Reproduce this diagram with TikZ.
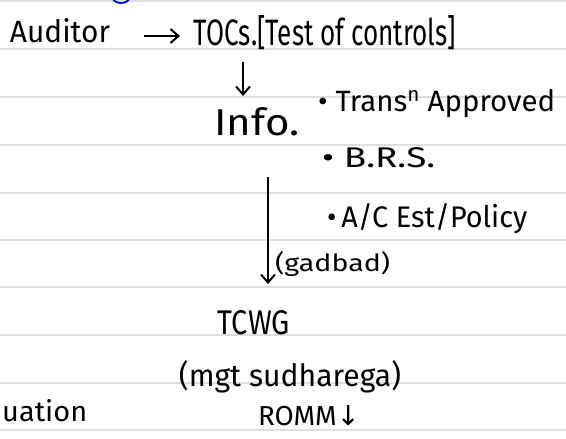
\documentclass[tikz,border=0pt]{standalone}
\usepackage{fontspec}
\setmainfont{Fira Sans}
\newfontfamily\symfont{DejaVu Sans}
\usetikzlibrary{arrows.meta}
\newcommand{\hw}[3]{\resizebox{#1pt}{#2pt}{#3}}
\tikzset{
  rule/.style={draw=black!13, line width=1.6pt},
  hand/.style={inner sep=0pt, anchor=center, font=\fontsize{26}{30}\selectfont},
  conn/.style={line width=2pt, -{Straight Barb[length=8pt,width=14pt,line width=2pt]}},
}
\begin{document}
\begin{tikzpicture}[x=1pt,y=-1pt]
\useasboundingbox (0,0) rectangle (566,439);
\fill[white] (0,0) rectangle (566,439);
% ruled lines
\foreach \yy in {1,49,97,145,193,240,287,335,383,430}
  \draw[rule] (0,\yy) -- (566,\yy);
% blue mark at top
\draw[blue, line width=1.8pt] (113,-2) arc[start angle=180, end angle=360, x radius=8pt, y radius=5pt];
% nodes
\node[hand] (aud) at (60,31) {\hw{100}{24}{Auditor}};
\node[hand] (toc) at (325,33) {\hw{262}{30}{TOCs.[Test of controls]}};
\node[hand] (info) at (257,122) {\hw{85}{28}{Info.}};
\node[hand, anchor=west] (b1) at (318,104) {\hw{237}{22}{\textbullet\ Trans\textsuperscript{n} Approved}};
\node[hand, anchor=west] (b2) at (322,158) {\hw{113}{20}{\textbullet\ B.R.S.}};
\node[hand, anchor=west] (b3) at (327,219) {\hw{200}{24}{\textbullet\,A/C Est/Policy}};
\node[hand, anchor=west] (gad) at (275,264) {\hw{115}{20}{(gadbad)}};
\node[hand] (tcwg) at (254,323) {\hw{72}{24}{TCWG}};
\node[hand] (mgt) at (290,377) {\hw{222}{26}{(mgt sudharega)}};
\node[hand, anchor=west] (eval) at (2,411) {\hw{85}{22}{uation}};
\node[hand] (romm) at (309,416) {\hw{102}{20}{ROMM{\symfont↓}}};
% connectors
\coordinate (a1) at (144,36);
\coordinate (a2) at (180,36);
\draw[conn] (a1) -- (a2);
\coordinate (d1) at (243,62);
\coordinate (d2) at (243,96);
\draw[conn] (d1) -- (d2);
\coordinate (v1) at (268,177);
\coordinate (v2) at (268,284);
\draw[conn] (v1) -- (v2);
\end{tikzpicture}
\end{document}
